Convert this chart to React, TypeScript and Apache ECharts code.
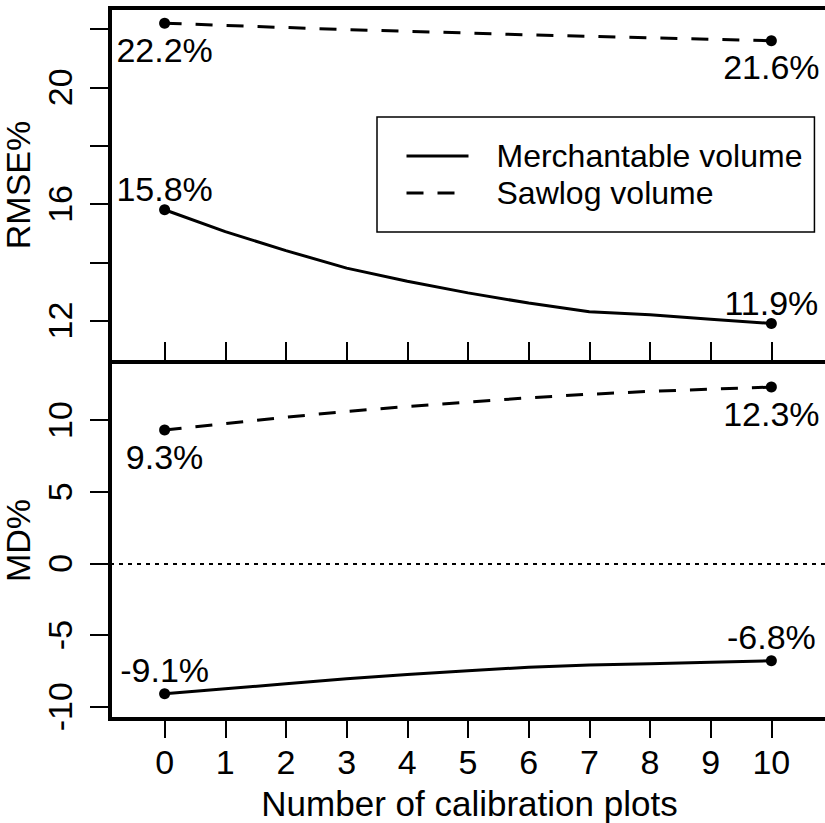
import React, { useEffect, useRef } from "react";
import * as echarts from "echarts";

const xValues = [0, 1, 2, 3, 4, 5, 6, 7, 8, 9, 10];
const rmseMerch = [15.8, 15.05, 14.4, 13.8, 13.35, 12.95, 12.6, 12.3, 12.2, 12.05, 11.9];
const rmseSaw = [22.2, 22.12, 22.05, 21.98, 21.92, 21.86, 21.8, 21.75, 21.7, 21.65, 21.6];
const mdMerch = [-9.1, -8.75, -8.4, -8.05, -7.75, -7.5, -7.25, -7.1, -7.0, -6.9, -6.8];
const mdSaw = [9.3, 9.75, 10.2, 10.6, 10.95, 11.25, 11.55, 11.8, 12.0, 12.15, 12.3];
const xTicks = [0, 1, 2, 3, 4, 5, 6, 7, 8, 9, 10];
const rmseTicks = [12, 14, 16, 18, 20, 22];
const rmseTickLabels = [12, 16, 20];
const mdTicks = [-10, -5, 0, 5, 10];
const seriesNames = ["Merchantable volume", "Sawlog volume"];

const FONT = "'Liberation Sans', Arial, sans-serif";

function pairs(ys: number[]) {
  return xValues.map((x, i) => [x, ys[i]]);
}
function ends(ys: number[]) {
  const n = xValues.length - 1;
  return [
    [xValues[0], ys[0]],
    [xValues[n], ys[n]],
  ];
}

export default function App() {
  const ref = useRef<HTMLDivElement>(null);
  useEffect(() => {
    if (!ref.current) return;
    const chart = echarts.init(ref.current, null, { renderer: "svg" });
    const xBase = {
      type: "value",
      min: -0.9,
      max: 10.95,
      axisLine: { show: false, onZero: false },
      splitLine: { show: false },
    };
    const lineBase = (name: string, data: number[][], dashed: boolean, xi: number) => ({
      type: "line",
      name,
      xAxisIndex: xi,
      yAxisIndex: xi,
      data,
      symbol: "none",
      lineStyle: { color: "#000", width: 3, type: dashed ? [17, 14] : "solid" },
      itemStyle: { color: "#000" },
      z: 3,
    });
    const endBase = (data: number[][], xi: number, pos: string, dist: number) => ({
      type: "scatter",
      xAxisIndex: xi,
      yAxisIndex: xi,
      data,
      symbol: "circle",
      symbolSize: 11,
      itemStyle: { color: "#000", opacity: 1 },
      z: 4,
      label: {
        show: true,
        position: pos,
        distance: dist,
        color: "#000",
        opacity: 1,
        fontSize: 34,
        fontFamily: FONT,
        formatter: (p: any) => p.value[1].toFixed(1) + "%",
      },
    });
    const gridBase = {
      left: 110,
      width: 719,
      show: true,
      borderColor: "#000",
      borderWidth: 4,
      backgroundColor: "transparent",
      containLabel: false,
      outerBoundsMode: "none",
    };
    const option: any = {
      animation: false,
      backgroundColor: "#fff",
      textStyle: { fontFamily: FONT },
      grid: [
        { ...gridBase, top: 8, height: 354 },
        { ...gridBase, top: 362, height: 357 },
      ],
      xAxis: [
        {
          ...xBase,
          gridIndex: 0,
          position: "bottom",
          axisTick: { show: true, inside: true, length: 20, customValues: xTicks, lineStyle: { color: "#000", width: 2 } },
          axisLabel: { show: false },
        },
        {
          ...xBase,
          gridIndex: 1,
          position: "bottom",
          name: "Number of calibration plots",
          nameLocation: "middle",
          nameGap: 67,
          nameTextStyle: { color: "#000", fontSize: 35, fontFamily: FONT },
          axisTick: { show: true, inside: false, length: 19, customValues: xTicks, lineStyle: { color: "#000", width: 2 } },
          axisLabel: { show: true, customValues: xTicks, margin: 26, color: "#000", fontSize: 34, fontFamily: FONT },
        },
      ],
      yAxis: [
        {
          type: "value",
          gridIndex: 0,
          min: 10.58,
          max: 22.72,
          name: "RMSE%",
          nameLocation: "middle",
          nameGap: 64,
          nameTextStyle: { color: "#000", fontSize: 34, fontFamily: FONT },
          axisLine: { show: false, onZero: false },
          splitLine: { show: false },
          axisTick: { show: true, length: 20, customValues: rmseTicks, lineStyle: { color: "#000", width: 2 } },
          axisLabel: { show: true, customValues: rmseTickLabels, rotate: 90, margin: 33, color: "#000", fontSize: 34, fontFamily: FONT },
        },
        {
          type: "value",
          gridIndex: 1,
          min: -10.86,
          max: 14.05,
          name: "MD%",
          nameLocation: "middle",
          nameGap: 64,
          nameTextStyle: { color: "#000", fontSize: 34, fontFamily: FONT },
          axisLine: { show: false, onZero: false },
          splitLine: { show: false },
          axisTick: { show: true, length: 20, customValues: mdTicks, lineStyle: { color: "#000", width: 2 } },
          axisLabel: { show: true, customValues: mdTicks, rotate: 90, margin: 33, color: "#000", fontSize: 34, fontFamily: FONT },
        },
      ],
      legend: {
        data: seriesNames,
        orient: "vertical",
        left: 377,
        top: 117,
        padding: [21, 12, 21, 28],
        itemGap: 1,
        itemWidth: 62,
        itemHeight: 2,
        backgroundColor: "#fff",
        borderColor: "#000",
        borderWidth: 1.5,
        borderRadius: 0,
        selectedMode: false,
        itemStyle: { opacity: 0 },
        lineStyle: { width: 3, color: "#000" },
        textStyle: { color: "#000", fontSize: 32, lineHeight: 36, fontFamily: FONT, padding: [0, 0, 0, 23] },
      },
      series: [
        lineBase(seriesNames[0], pairs(rmseMerch), false, 0),
        lineBase(seriesNames[1], pairs(rmseSaw), true, 0),
        lineBase(seriesNames[0], pairs(mdMerch), false, 1),
        {
          ...lineBase(seriesNames[1], pairs(mdSaw), true, 1),
          markLine: {
            silent: true,
            symbol: "none",
            label: { show: false },
            lineStyle: { color: "#000", width: 2, type: [4, 5] },
            data: [{ yAxis: 0 }],
          },
        },
        endBase(ends(rmseMerch), 0, "top", -2),
        endBase(ends(rmseSaw), 0, "bottom", 4),
        endBase(ends(mdMerch), 1, "top", 1),
        endBase(ends(mdSaw), 1, "bottom", 4),
      ],
    };
    chart.setOption(option);
    return () => chart.dispose();
  }, []);
  return (
    <div
      ref={ref}
      style={{ position: "fixed", left: 0, top: 0, width: 825, height: 823, overflow: "hidden" }}
    />
  );
}
